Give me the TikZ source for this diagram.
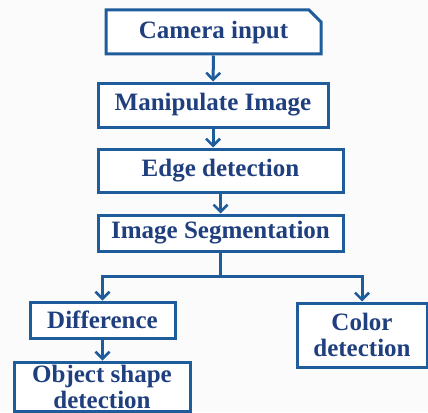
\documentclass[tikz,border=0pt]{standalone}
\usepackage{fontspec}
\setmainfont{Liberation Serif}
\usetikzlibrary{arrows.meta,positioning,shapes.misc}
\definecolor{boxline}{HTML}{1F5C9C}
\definecolor{boxtext}{HTML}{1F3F7F}
\tikzset{
  stage/.style={draw=boxline, line width=3pt, fill=white, align=center,
    inner sep=0pt, text=boxtext,
    font=\fontsize{25}{26}\selectfont\bfseries},
  flow/.style={draw=boxline, line width=3pt,
    -{Straight Barb[length=7pt,width=14pt,line width=2.5pt]}}
}
\begin{document}
\begin{tikzpicture}[x=1pt,y=1pt,node distance=10pt,on grid]
  \useasboundingbox[fill=gray!3] (0,0) rectangle (428,-412);
  \node[stage, chamfered rectangle, chamfered rectangle corners=north east,
        chamfered rectangle xsep=6pt, chamfered rectangle ysep=6pt,
        minimum width=215pt, minimum height=44pt] (cam) at (213.5,-32) {Camera input};
  \node[stage, minimum width=230pt, minimum height=44pt] (manip)
        [below=73pt of cam, xshift=-0.5pt] {Manipulate Image};
  \node[stage, minimum width=245pt, minimum height=43pt] (edge)
        [below=65.5pt of manip, xshift=7.5pt] {Edge detection};
  \node[stage, minimum width=245pt, minimum height=36pt] (seg)
        [below=62.5pt of edge] {Image Segmentation};
  \coordinate[below=43pt of seg] (split);
  \node[stage, minimum width=145pt, minimum height=36pt] (diff)
        at (102.5,-320) {Difference};
  \node[stage, minimum width=176pt, minimum height=49pt] (obj)
        [below=66.5pt of diff, xshift=-0.5pt] {Object shape\\detection};
  \node[stage, minimum width=130pt, minimum height=64pt] (color)
        at (362,-335) {Color\\detection};

  \draw[flow] (cam) -- (manip);
  \draw[flow] (manip) -- (edge.north -| manip);
  \draw[flow] (edge) -- (seg);
  \draw[boxline, line width=3pt] (seg) -- (split);
  \draw[flow] (split) -| (diff);
  \draw[flow] (split) -| (color);
  \draw[flow] (diff) -- (obj.north -| diff);
\end{tikzpicture}
\end{document}
